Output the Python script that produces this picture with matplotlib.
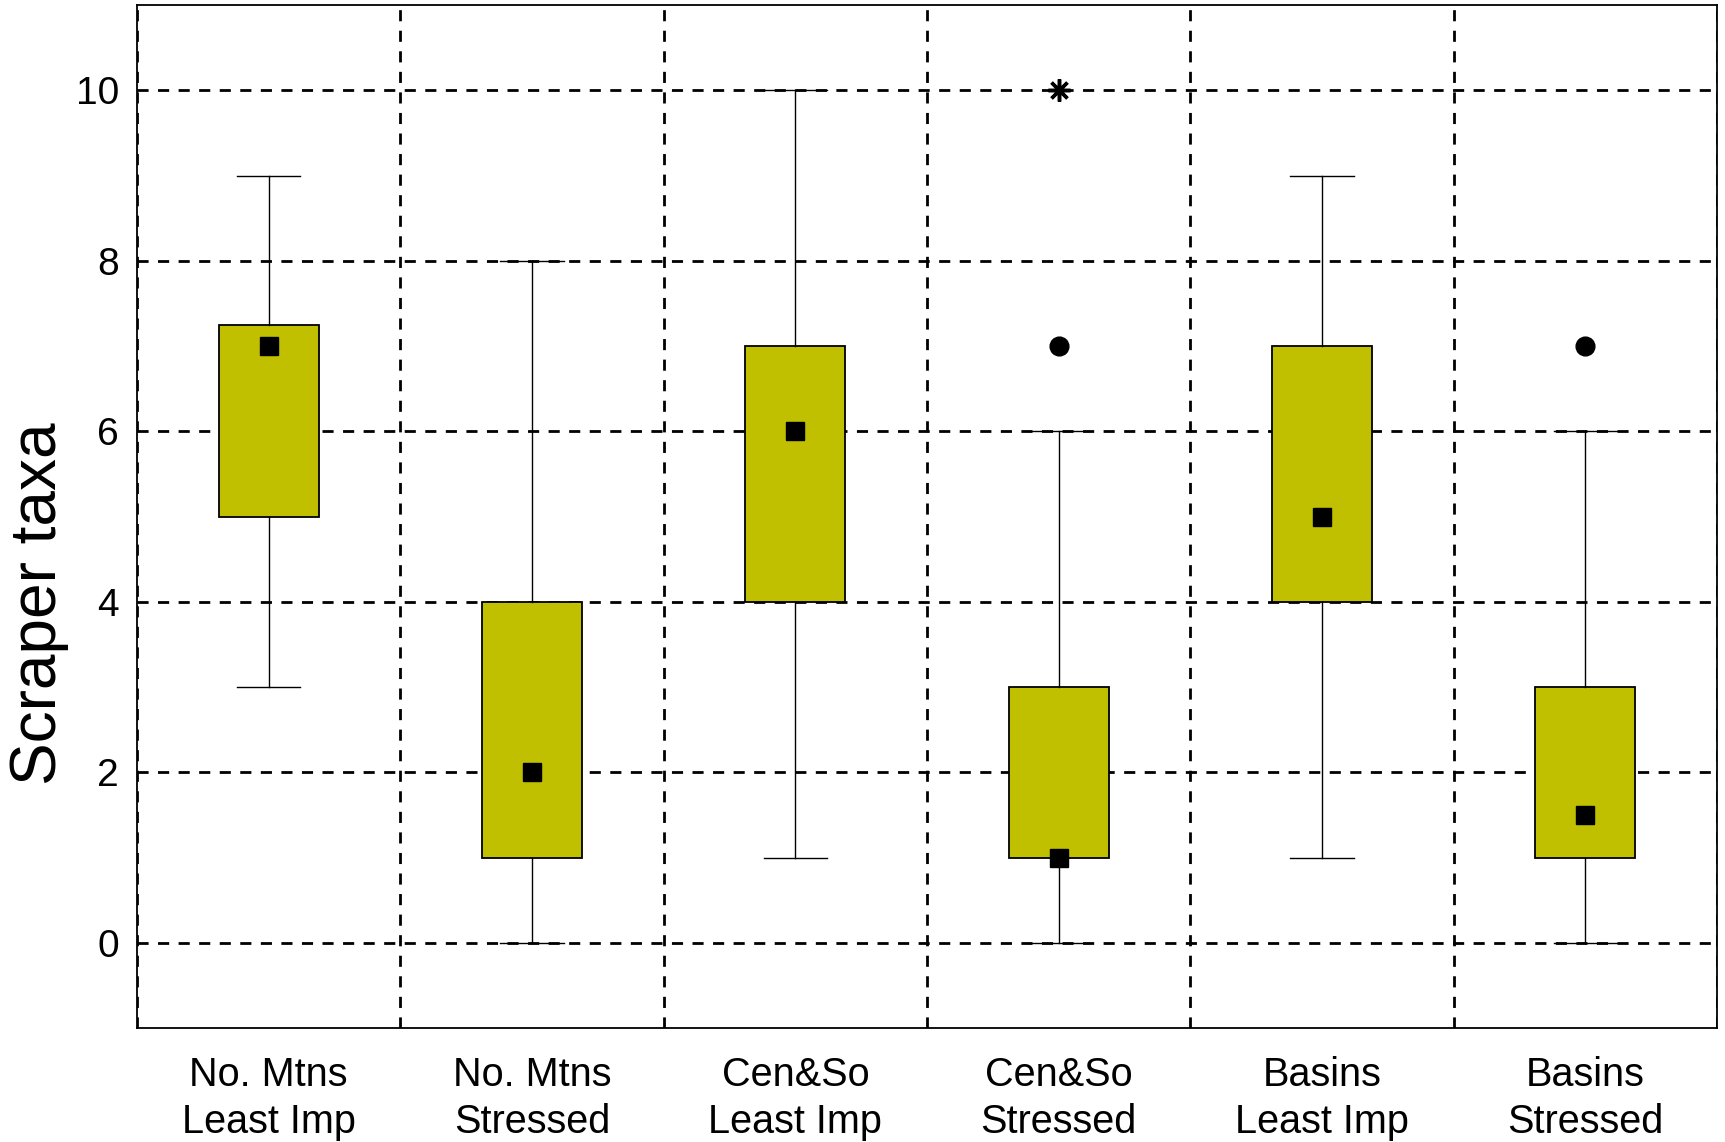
import numpy as np
import matplotlib.pyplot as plt

plt.rcParams['font.family'] = ['Liberation Sans', 'DejaVu Sans']

# Box statistics
groups = ['No. Mtns\nLeast Imp', 'No. Mtns\nStressed', 'Cen&So\nLeast Imp',
          'Cen&So\nStressed', 'Basins\nLeast Imp', 'Basins\nStressed']
whisker_low = [3, 0, 1, 0, 1, 0]
q1 = [5, 1, 4, 1, 4, 1]
medians = [7, 2, 6, 1, 5, 1.5]
q3 = [7.25, 4, 7, 3, 7, 3]
whisker_high = [9, 8, 10, 6, 9, 6]
outliers = [[], [], [], [7], [], [7]]
extremes = [[], [], [], [10], [], []]

box_color = '#c0c000'

fig = plt.figure(figsize=(17.25, 11.42), dpi=100)
ax = fig.add_axes([0.0794, 0.0998, 0.916, 0.8958])

positions = np.arange(1, len(groups) + 1)
stats = []
for i in range(len(groups)):
    stats.append(dict(whislo=whisker_low[i], q1=q1[i], med=medians[i],
                      q3=q3[i], whishi=whisker_high[i], fliers=[]))

ax.bxp(stats, positions=positions, widths=0.38, patch_artist=True,
       showfliers=False,
       boxprops=dict(facecolor=box_color, edgecolor='black', linewidth=1.3),
       whiskerprops=dict(color='black', linewidth=1.0),
       capprops=dict(color='black', linewidth=1.0),
       medianprops=dict(linewidth=0),
       capwidths=0.24, zorder=3)

# median markers
ax.plot(positions, medians, linestyle='none', marker='s', color='black',
        markersize=13, zorder=4)

# outliers and extremes
for i, pos in enumerate(positions):
    if outliers[i]:
        ax.plot([pos] * len(outliers[i]), outliers[i], linestyle='none',
                marker='o', color='black', markersize=13.5, zorder=4)
    if extremes[i]:
        ax.plot([pos] * len(extremes[i]), extremes[i], linestyle='none',
                marker=(8, 2, 0), color='black', markersize=16,
                markeredgewidth=2.5, zorder=4)

ax.set_xlim(0.5, len(groups) + 0.5)
ax.set_ylim(-1, 11)
ax.set_yticks([0, 2, 4, 6, 8, 10])
ax.set_xticks(positions)
ax.set_xticklabels(groups, fontsize=28.5, linespacing=1.3)
ax.tick_params(axis='y', labelsize=28, length=0, pad=13)
ax.tick_params(axis='x', length=0, pad=20)

# dashed grid: horizontal at y ticks, vertical between groups
grid_kw = dict(color='black', linewidth=2.0, linestyle=(0, (4.0, 3.4)), zorder=1)
for y in [0, 2, 4, 6, 8, 10]:
    ax.axhline(y, **grid_kw)
for x in np.arange(0.5, len(groups) + 1, 1.0):
    ax.axvline(x, **grid_kw)

for sp in ax.spines.values():
    sp.set_linewidth(1.3)

ax.text(-0.0623, 0.415, 'Scraper taxa', fontsize=46, rotation=90,
        ha='center', va='center', transform=ax.transAxes)

plt.savefig('out.png', dpi=100)
